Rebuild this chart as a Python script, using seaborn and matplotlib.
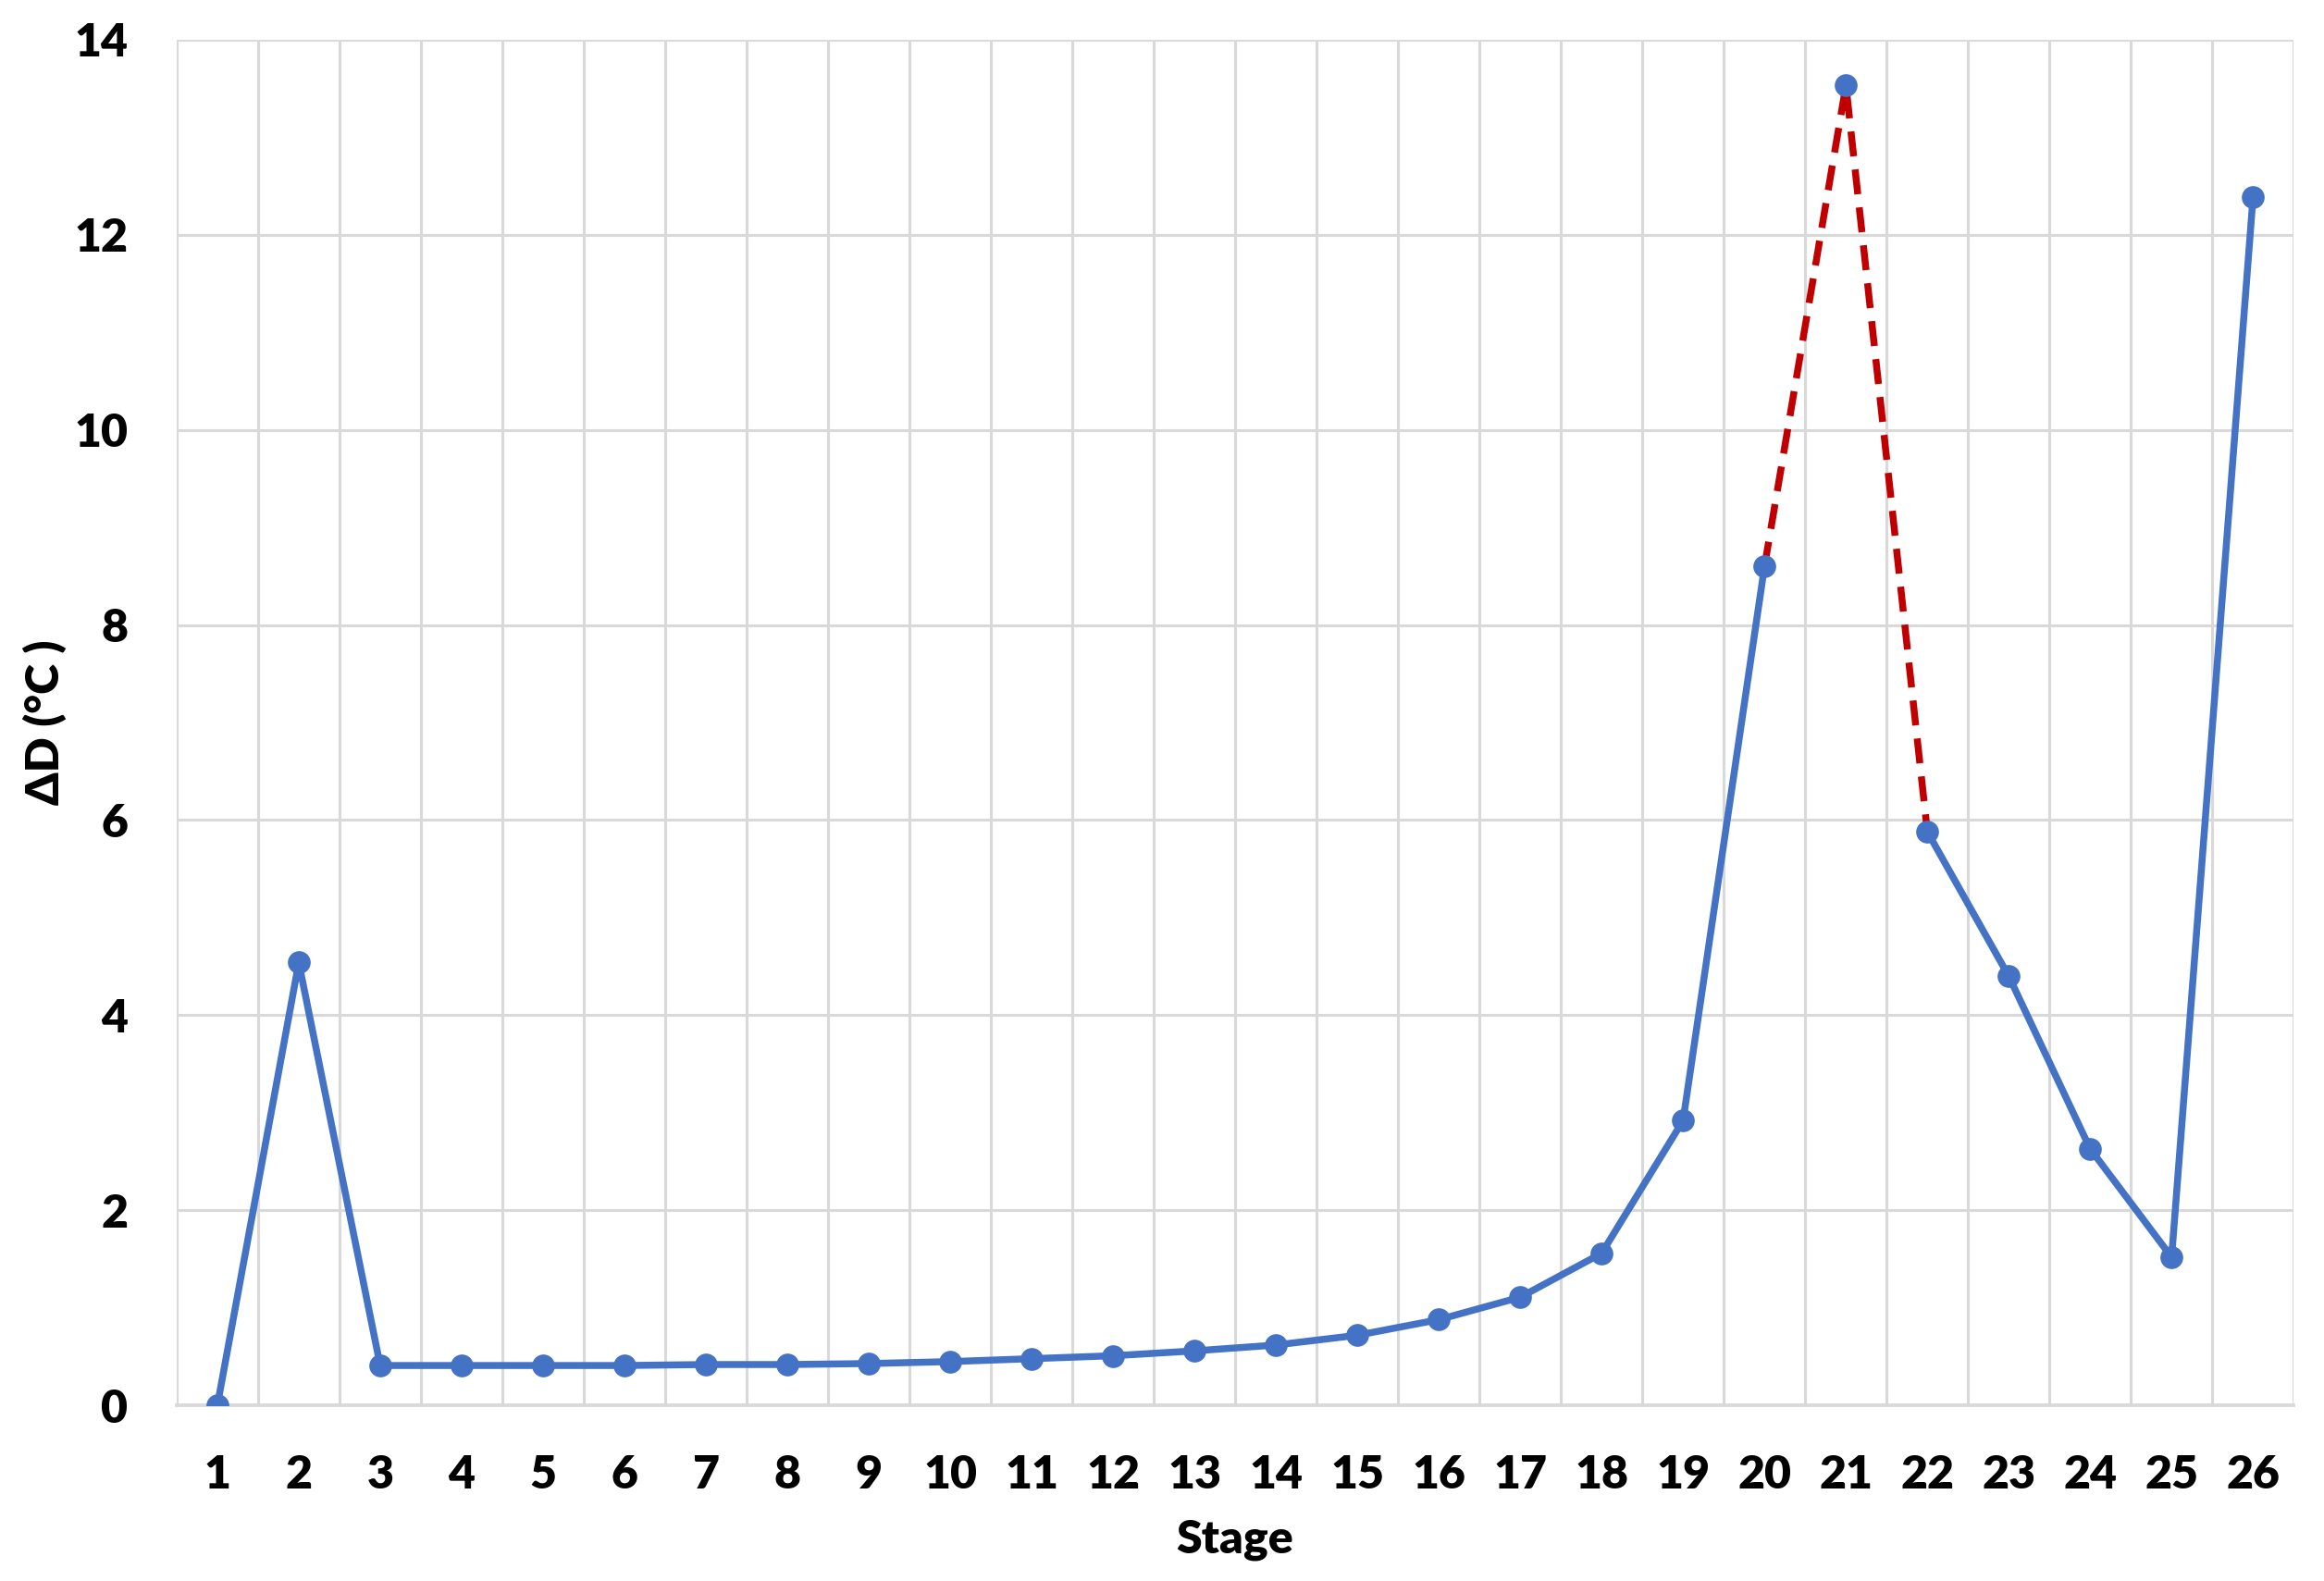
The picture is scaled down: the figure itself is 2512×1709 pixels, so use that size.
import matplotlib.pyplot as plt
import numpy as np
import pandas as pd
import seaborn as sns

sns.set_theme(style="white")
plt.rcParams["font.family"] = ["Lato", "DejaVu Sans"]
plt.rcParams["text.color"] = "black"
plt.rcParams["xtick.color"] = "black"
plt.rcParams["ytick.color"] = "black"
plt.rcParams["axes.labelcolor"] = "black"

stages = list(range(1, 27))
delta_d = [0.0, 4.54, 0.41, 0.41, 0.41, 0.41, 0.42, 0.42, 0.43, 0.45,
           0.48, 0.51, 0.56, 0.62, 0.72, 0.88, 1.11, 1.56, 2.92, 8.6,
           13.53, 5.88, 4.40, 2.63, 1.52, 12.39]
# stages joined by the red dashed segment
dashed_stages = [20, 21, 22]

BLUE = "#4472C4"
RED = "#C00000"
GRID = "#D9D9D9"

df = pd.DataFrame({"stage": stages, "dD": delta_d})
first = df[df["stage"] <= 20]
second = df[df["stage"] >= 22]
dashed = df[df["stage"].isin(dashed_stages)]

fig = plt.figure(figsize=(12.56, 8.545), dpi=200)
ax = fig.add_axes([0.076, 0.111, 0.911, 0.864])

sns.lineplot(data=first, x="stage", y="dD", color=BLUE, lw=2.7, ax=ax)
sns.lineplot(data=second, x="stage", y="dD", color=BLUE, lw=2.7, ax=ax)
sns.lineplot(data=dashed, x="stage", y="dD", color=RED, lw=2.7, ax=ax,
             dashes=False, linestyle=(0, (3.6, 1.9)))
sns.scatterplot(data=df, x="stage", y="dD", color=BLUE, s=70,
                edgecolor=BLUE, linewidth=0.5, zorder=5, ax=ax)

ax.set_xlim(0.5, 26.5)
ax.set_ylim(0, 14)
ax.set_xticks(stages)
ax.set_xticks(np.arange(0.5, 27, 1), minor=True)
ax.set_yticks(range(0, 15, 2))
ax.grid(False)
ax.grid(axis="x", which="minor", color=GRID, lw=1.1)
ax.grid(axis="y", which="major", color=GRID, lw=1.1)
ax.set_axisbelow(True)
for side in ["top", "right", "left"]:
    ax.spines[side].set_visible(False)
ax.spines["bottom"].set_color(GRID)
ax.spines["bottom"].set_linewidth(1.4)

ax.tick_params(which="both", length=0)
ax.tick_params(axis="x", pad=19, labelsize=18)
ax.tick_params(axis="y", pad=19, labelsize=18)
for lab in ax.get_xticklabels() + ax.get_yticklabels():
    lab.set_fontweight("heavy")

ax.set_xlabel("Stage", fontsize=18, fontweight="heavy", labelpad=9)
ax.set_ylabel("ΔD (°C )", fontsize=18, fontweight="heavy", labelpad=3)

fig.savefig("out.png", dpi=200)
